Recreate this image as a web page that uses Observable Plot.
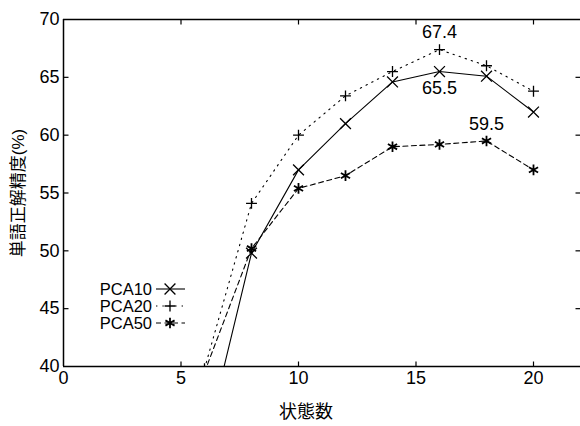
<!DOCTYPE html>
<html>
<head>
<meta charset="utf-8">
<script src="https://cdn.jsdelivr.net/npm/d3@7"></script>
<script src="https://cdn.jsdelivr.net/npm/@observablehq/plot@0.6"></script>
<style>
  html, body { margin: 0; padding: 0; background: white; overflow: hidden; }
  #chart svg { display: block; }
</style>
</head>
<body>
<div id="chart"></div>
<script>
// ---- data ----
const states = [6, 8, 10, 12, 14, 16, 18, 20];
const pca10 = [33.0, 49.8, 57.0, 61.0, 64.6, 65.5, 65.1, 62.0];
const pca20 = [39.8, 54.1, 60.0, 63.4, 65.5, 67.4, 66.0, 63.8];
const pca50 = [39.5, 50.2, 55.4, 56.5, 59.0, 59.2, 59.5, 57.0];
const seriesNames = ["PCA10", "PCA20", "PCA50"];
const xTicks = [0, 5, 10, 15, 20];
const yTicks = [40, 45, 50, 55, 60, 65, 70];
const xLabel = "状態数";
const yLabel = "単語正解精度(%)";
const annotations = [
  {x: 16, y: 67.4, text: "67.4", pos: "above"},
  {x: 16, y: 65.5, text: "65.5", pos: "below"},
  {x: 18, y: 59.5, text: "59.5", pos: "above"}
];

const valuesBySeries = [pca10, pca20, pca50];
const rows = [];
seriesNames.forEach((name, i) => {
  states.forEach((s, j) => rows.push({series: name, state: s, value: valuesBySeries[i][j]}));
});

const styles = {
  PCA10: {dash: null, symbol: "times", r: 5, sw: 1.3},
  PCA20: {dash: "1.4,5", symbol: "plus", r: 3.6, sw: 1.3},
  PCA50: {dash: "5,3.5", symbol: "asterisk", r: 5, sw: 1.8}
};

const font = "'Liberation Sans', Arial, 'Noto Sans CJK JP', sans-serif";

const tickUp = {draw(c) { c.moveTo(0, 0); c.lineTo(0, -5); }};
const tickDown = {draw(c) { c.moveTo(0, 0); c.lineTo(0, 5); }};
const tickRight = {draw(c) { c.moveTo(0, 0); c.lineTo(5, 0); }};
const tickLeft = {draw(c) { c.moveTo(0, 0); c.lineTo(-5, 0); }};

const marks = [
  // frame (top, bottom, left)
  Plot.ruleY([70], {stroke: "black", strokeWidth: 1.5}),
  Plot.ruleY([40], {stroke: "black", strokeWidth: 1.5}),
  Plot.ruleX([0], {stroke: "black", strokeWidth: 1.5}),
  // inward ticks
  Plot.dot(xTicks.slice(1), {x: d => d, y: () => 40, symbol: tickUp, fill: "none", stroke: "black", strokeWidth: 1.2}),
  Plot.dot(xTicks.slice(1), {x: d => d, y: () => 70, symbol: tickDown, fill: "none", stroke: "black", strokeWidth: 1.2}),
  Plot.dot(yTicks.slice(1, -1), {x: () => 0, y: d => d, symbol: tickRight, fill: "none", stroke: "black", strokeWidth: 1.2}),
  Plot.dot(yTicks.slice(1, -1), {x: () => 22, y: d => d, symbol: tickLeft, fill: "none", stroke: "black", strokeWidth: 1.2}),
  // axes labels
  Plot.axisX({ticks: xTicks, tickSize: 0, tickPadding: 5, label: null, fontSize: 18}),
  Plot.axisY({ticks: yTicks, tickSize: 0, tickPadding: 4, label: null, fontSize: 18}),
  Plot.text([xLabel], {text: d => d, frameAnchor: "bottom", textAnchor: "middle", lineAnchor: "middle", dx: -16, dy: 46, fontSize: 18}),
  Plot.text([yLabel], {text: d => d, frameAnchor: "left", textAnchor: "middle", lineAnchor: "middle", rotate: -90, dx: -45, fontSize: 17})
];

seriesNames.forEach(name => {
  const st = styles[name];
  const data = rows.filter(d => d.series === name);
  marks.push(Plot.line(data, {x: "state", y: "value", stroke: "black", strokeWidth: 1.1, strokeDasharray: st.dash, clip: true}));
  marks.push(Plot.dot(data, {x: "state", y: "value", symbol: st.symbol, r: st.r, stroke: "black", fill: "none", strokeWidth: st.sw, clip: true}));
});

annotations.forEach(a => {
  marks.push(Plot.text([a], {x: "x", y: "y", text: "text", dy: a.pos === "above" ? -17 : 17, fontSize: 18}));
});

const chart = Plot.plot({
  width: 580,
  height: 426,
  marginLeft: 63,
  marginRight: 0,
  marginTop: 19,
  marginBottom: 60,
  style: {fontFamily: font, fontSize: "18px", color: "black", background: "white"},
  x: {domain: [0, 22], axis: null},
  y: {domain: [40, 70], axis: null},
  marks
});

document.getElementById("chart").appendChild(chart);

// ---- legend (inside plot area, lower left) ----
const svg = d3.select(chart);
const leg = svg.append("g").attr("font-family", font).attr("font-size", 16.5).attr("fill", "black");
const legendRows = [289, 306, 323];
seriesNames.forEach((name, i) => {
  const st = styles[name];
  const y = legendRows[i];
  leg.append("text").attr("x", 152).attr("y", y).attr("text-anchor", "end")
    .attr("dominant-baseline", "central").text(name);
  leg.append("line").attr("x1", 156).attr("x2", 185).attr("y1", y).attr("y2", y)
    .attr("stroke", "black").attr("stroke-width", 1.1)
    .attr("stroke-dasharray", st.dash);
  const symType = {times: d3.symbolTimes, plus: d3.symbolPlus, asterisk: d3.symbolAsterisk}[st.symbol];
  leg.append("path").attr("transform", `translate(170,${y})`)
    .attr("d", d3.symbol(symType, Math.PI * st.r * st.r)())
    .attr("fill", "none").attr("stroke", "black").attr("stroke-width", st.sw);
});
</script>
</body>
</html>
